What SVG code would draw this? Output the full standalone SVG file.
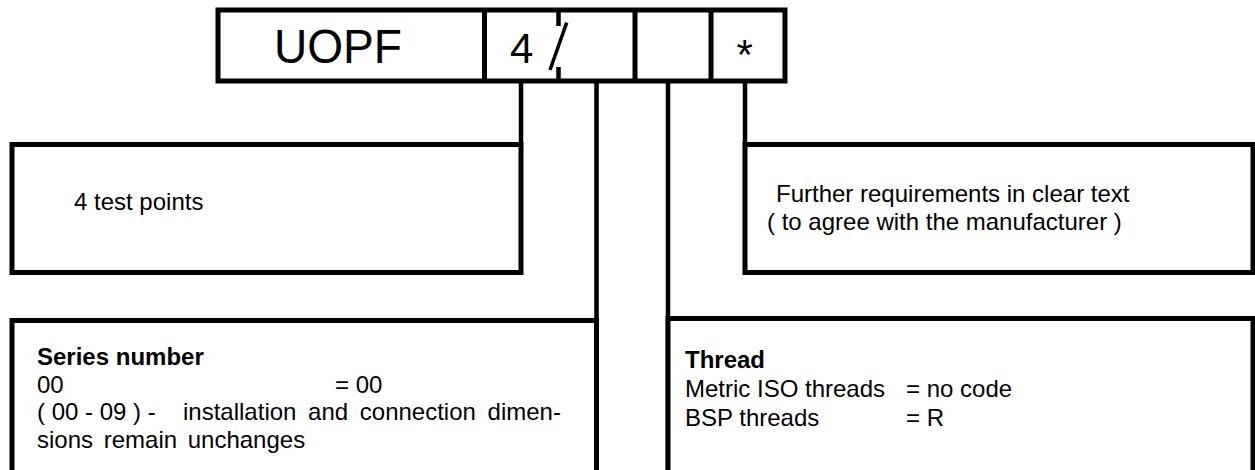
<svg xmlns="http://www.w3.org/2000/svg" width="1255" height="470" viewBox="0 0 1255 470">
<style>
.box{fill:#fff;stroke:#000;stroke-width:5}
.cn{fill:none;stroke:#000;stroke-width:4.5}
.t{font-family:"Liberation Sans",Arial,Helvetica,sans-serif;fill:#000;font-size:24px}
.b{font-weight:bold}
</style>
<rect width="1255" height="470" fill="#fff"/>
<g id="connectors">
<path class="cn" d="M521 81V145M596.5 81V470M668 81V470M745 81V145"/>
</g>
<g id="code-box">
<rect class="box" x="218" y="10" width="567" height="71"/>
<path class="cn" d="M484.5 10V81M635 10V81M711 10V81" style="stroke-width:5"/>
<path class="cn" d="M558.5 10V26M558.5 67V81"/>
<path class="cn" d="M566.7 22.7L550 70" style="stroke-width:3.5"/>
<text class="t" x="274" y="63" style="font-size:48px" textLength="128" lengthAdjust="spacingAndGlyphs">UOPF</text>
<text class="t" x="510" y="63" style="font-size:42px">4</text>
<text class="t" x="736.5" y="69" style="font-size:42px">*</text>
</g>
<g id="test-points">
<rect class="box" x="12" y="144.5" width="509" height="128"/>
<text class="t" x="74" y="210">4 test points</text>
</g>
<g id="further">
<rect class="box" x="745" y="144.5" width="508" height="128"/>
<text class="t" x="776" y="202">Further requirements in clear text</text>
<text class="t" x="767" y="230">( to agree with the manufacturer )</text>
</g>
<g id="series">
<rect class="box" x="12" y="320.5" width="584.5" height="160"/>
<text class="t b" x="37" y="365">Series number</text>
<text class="t" x="37" y="392.5">00</text>
<text class="t" x="335" y="392.5">= 00</text>
<text class="t" x="37" y="420">( 00 - 09 ) -</text>
<text class="t" x="183" y="420" word-spacing="5">installation and connection dimen-</text>
<text class="t" x="37" y="447.5" word-spacing="4">sions remain unchanges</text>
</g>
<g id="thread">
<rect class="box" x="668" y="318.5" width="585" height="160"/>
<text class="t b" x="685" y="368">Thread</text>
<text class="t" x="685" y="397">Metric ISO threads</text>
<text class="t" x="906" y="397">= no code</text>
<text class="t" x="685" y="426">BSP threads</text>
<text class="t" x="906" y="426">= R</text>
</g>
</svg>
